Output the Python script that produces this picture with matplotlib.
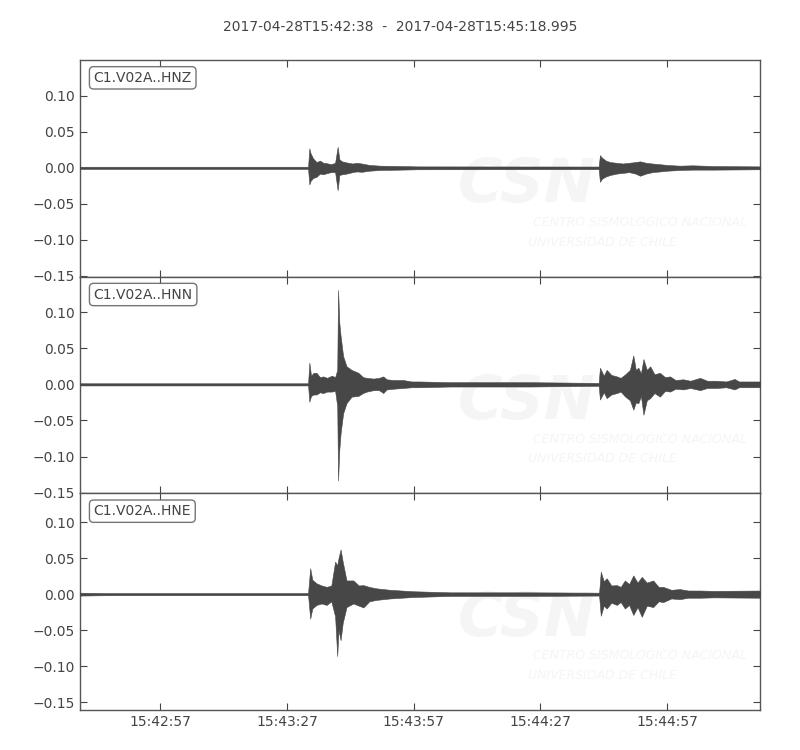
import matplotlib
matplotlib.use("Agg")
import matplotlib.pyplot as plt
import matplotlib.dates as mdates
from matplotlib.ticker import MultipleLocator
from datetime import datetime, timedelta

# --- data: trace envelopes (seconds after start, max, min) ---
start = datetime(2017, 4, 28, 15, 42, 38)
end = start + timedelta(seconds=160.995)
title = "2017-04-28T15:42:38  -  2017-04-28T15:45:18.995"
channels = ["C1.V02A..HNZ", "C1.V02A..HNN", "C1.V02A..HNE"]

hnz_t = [0, 54.0, 54.3, 54.6, 55.2, 56.0, 56.8, 57.6, 58.4, 59.4, 60.4, 61.0, 61.4, 62.0,
         63.1, 64.5, 65.5, 66.7, 68.5, 71.0, 76.0, 80.0, 122.8, 123.1, 123.6, 124.5, 125.5,
         127.0, 128.5, 130.0, 131.5, 132.6, 134.0, 135.5, 137.3, 139.0, 142.0, 145.0, 150.0, 161.0]
hnz_max = [0.0015, 0.0015, 0.027, 0.020, 0.013, 0.008, 0.010, 0.007, 0.0065, 0.005, 0.007, 0.029,
           0.012, 0.009, 0.0075, 0.006, 0.007, 0.006, 0.004, 0.003, 0.0025, 0.002, 0.0018, 0.0176,
           0.014, 0.010, 0.008, 0.007, 0.006, 0.007, 0.008, 0.009, 0.007, 0.006, 0.005, 0.004,
           0.003, 0.0035, 0.0025, 0.002]
hnz_min = [-0.0015, -0.0015, -0.023, -0.018, -0.014, -0.0125, -0.008, -0.009, -0.0074, -0.006,
           -0.006, -0.031, -0.010, -0.009, -0.008, -0.006, -0.005, -0.0055, -0.004, -0.003,
           -0.0025, -0.002, -0.0018, -0.0194, -0.015, -0.012, -0.010, -0.008, -0.007, -0.006,
           -0.008, -0.011, -0.008, -0.006, -0.005, -0.004, -0.003, -0.0025, -0.0025, -0.002]

hnn_t = [0, 54.0, 54.3, 54.7, 55.3, 56.0, 56.8, 57.6, 58.5, 59.6, 60.4, 60.9, 61.1, 61.4, 61.7,
         62.3, 63.1, 64.3, 65.9, 67.0, 67.9, 69.5, 70.8, 71.8, 72.6, 74.2, 76.5, 78.5, 80.5,
         87.6, 106.5, 122.8, 123.1, 124.0, 124.7, 125.8, 127.1, 128.0, 129.0, 130.2, 131.0,
         131.6, 132.2, 132.8, 133.4, 134.2, 135.0, 136.0, 137.3, 138.5, 139.7, 141.0, 142.8,
         144.5, 146.8, 148.5, 150.7, 153.0, 155.0, 156.0, 161.0]
hnn_max = [0.0015, 0.0015, 0.030, 0.012, 0.016, 0.016, 0.010, 0.011, 0.009, 0.012, 0.010, 0.020,
           0.1306, 0.085, 0.067, 0.039, 0.025, 0.020, 0.016, 0.010, 0.009, 0.008, 0.009, 0.011,
           0.007, 0.006, 0.006, 0.004, 0.004, 0.003, 0.003, 0.002, 0.023, 0.012, 0.020, 0.013,
           0.011, 0.009, 0.0135, 0.020, 0.040, 0.020, 0.023, 0.015, 0.035, 0.020, 0.025, 0.014,
           0.016, 0.010, 0.011, 0.006, 0.007, 0.005, 0.009, 0.005, 0.005, 0.004, 0.0075, 0.004,
           0.004]
hnn_min = [-0.0015, -0.0015, -0.024, -0.016, -0.014, -0.014, -0.011, -0.012, -0.010, -0.010,
           -0.009, -0.030, -0.133, -0.090, -0.0675, -0.040, -0.026, -0.017, -0.016, -0.012,
           -0.010, -0.008, -0.008, -0.012, -0.007, -0.006, -0.005, -0.004, -0.004, -0.003,
           -0.003, -0.002, -0.021, -0.011, -0.019, -0.014, -0.012, -0.010, -0.0165, -0.022,
           -0.035, -0.025, -0.026, -0.016, -0.042, -0.022, -0.019, -0.012, -0.017, -0.009,
           -0.010, -0.006, -0.007, -0.005, -0.008, -0.005, -0.005, -0.004, -0.007, -0.004,
           -0.004]

hne_t = [0, 6.0, 54.0, 54.5, 55.0, 56.0, 57.2, 58.4, 59.5, 60.4, 60.9, 61.2, 61.7, 62.2, 63.1,
         64.7, 66.0, 67.1, 68.5, 70.2, 73.4, 78.9, 87.6, 106.5, 122.9, 123.3, 124.0, 124.7,
         125.8, 127.1, 128.0, 129.0, 130.0, 131.0, 132.0, 133.0, 134.2, 135.7, 137.0, 138.1,
         140.0, 142.0, 144.0, 146.8, 150.0, 161.0]
hne_max = [0.002, 0.0015, 0.0015, 0.036, 0.020, 0.015, 0.012, 0.010, 0.012, 0.045, 0.040, 0.050,
           0.062, 0.045, 0.019, 0.019, 0.012, 0.0125, 0.010, 0.008, 0.006, 0.004, 0.0025, 0.0025,
           0.002, 0.031, 0.018, 0.022, 0.012, 0.0125, 0.010, 0.019, 0.014, 0.026, 0.016, 0.024,
           0.016, 0.019, 0.010, 0.010, 0.006, 0.007, 0.005, 0.005, 0.0045, 0.005]
hne_min = [-0.002, -0.0015, -0.0015, -0.034, -0.020, -0.015, -0.013, -0.015, -0.010, -0.031,
           -0.086, -0.050, -0.064, -0.040, -0.018, -0.013, -0.016, -0.0185, -0.010, -0.008,
           -0.006, -0.004, -0.0025, -0.0025, -0.002, -0.030, -0.016, -0.020, -0.012, -0.015,
           -0.011, -0.020, -0.015, -0.029, -0.018, -0.0315, -0.016, -0.018, -0.010, -0.011,
           -0.006, -0.007, -0.005, -0.005, -0.0045, -0.005]

traces = [(hnz_t, hnz_max, hnz_min), (hnn_t, hnn_max, hnn_min), (hne_t, hne_max, hne_min)]
ylims = [(-0.151, 0.1496), (-0.1508, 0.149), (-0.161, 0.140)]

# --- style ---
txt = "#444444"
trace_c = "#474747"
wm = "#f5f5f5"
plt.rcParams["font.family"] = ["DejaVu Sans"]

fig, axes = plt.subplots(3, 1, figsize=(8, 7.5), dpi=100, sharex=True)
fig.subplots_adjust(left=0.1, right=0.95, top=0.92, bottom=0.0533, hspace=0)

for ax, (t, up, lo), name, yl in zip(axes, traces, channels, ylims):
    times = [start + timedelta(seconds=s) for s in t]
    ax.fill_between(times, lo, up, color=trace_c, lw=0.4, edgecolor=trace_c, zorder=3)

    # faint CSN watermark
    ax.text(0.657, 0.42, "CSN", transform=ax.transAxes, fontsize=44, fontweight="bold",
            fontstyle="italic", color=wm, ha="center", va="center", zorder=1)
    ax.text(0.666, 0.25, "CENTRO SISMOLOGICO NACIONAL", transform=ax.transAxes, fontsize=9,
            fontstyle="italic", color=wm, ha="left", va="center", zorder=1)
    ax.text(0.659, 0.16, "UNIVERSIDAD DE CHILE", transform=ax.transAxes, fontsize=9,
            fontstyle="italic", color=wm, ha="left", va="center", zorder=1)

    ax.text(0.02, 0.95, name, transform=ax.transAxes, fontsize=10, color=txt, ha="left", va="top",
            bbox=dict(boxstyle="round", fc="w", ec="#666666", alpha=0.9), zorder=5)

    ax.set_ylim(*yl)
    ax.set_xlim(start, end)
    ax.yaxis.set_major_locator(MultipleLocator(0.05))
    ax.tick_params(direction="in", top=True, right=True, length=5, color=txt,
                   labelcolor=txt, labelsize=10)
    for sp in ax.spines.values():
        sp.set_color("#555555")
        sp.set_linewidth(1.0)

axes[-1].xaxis.set_major_locator(mdates.SecondLocator(bysecond=[27, 57]))
axes[-1].xaxis.set_major_formatter(mdates.DateFormatter("%H:%M:%S"))

fig.suptitle(title, y=0.973, fontsize=10, color=txt)

fig.savefig("out.png", dpi=100)
